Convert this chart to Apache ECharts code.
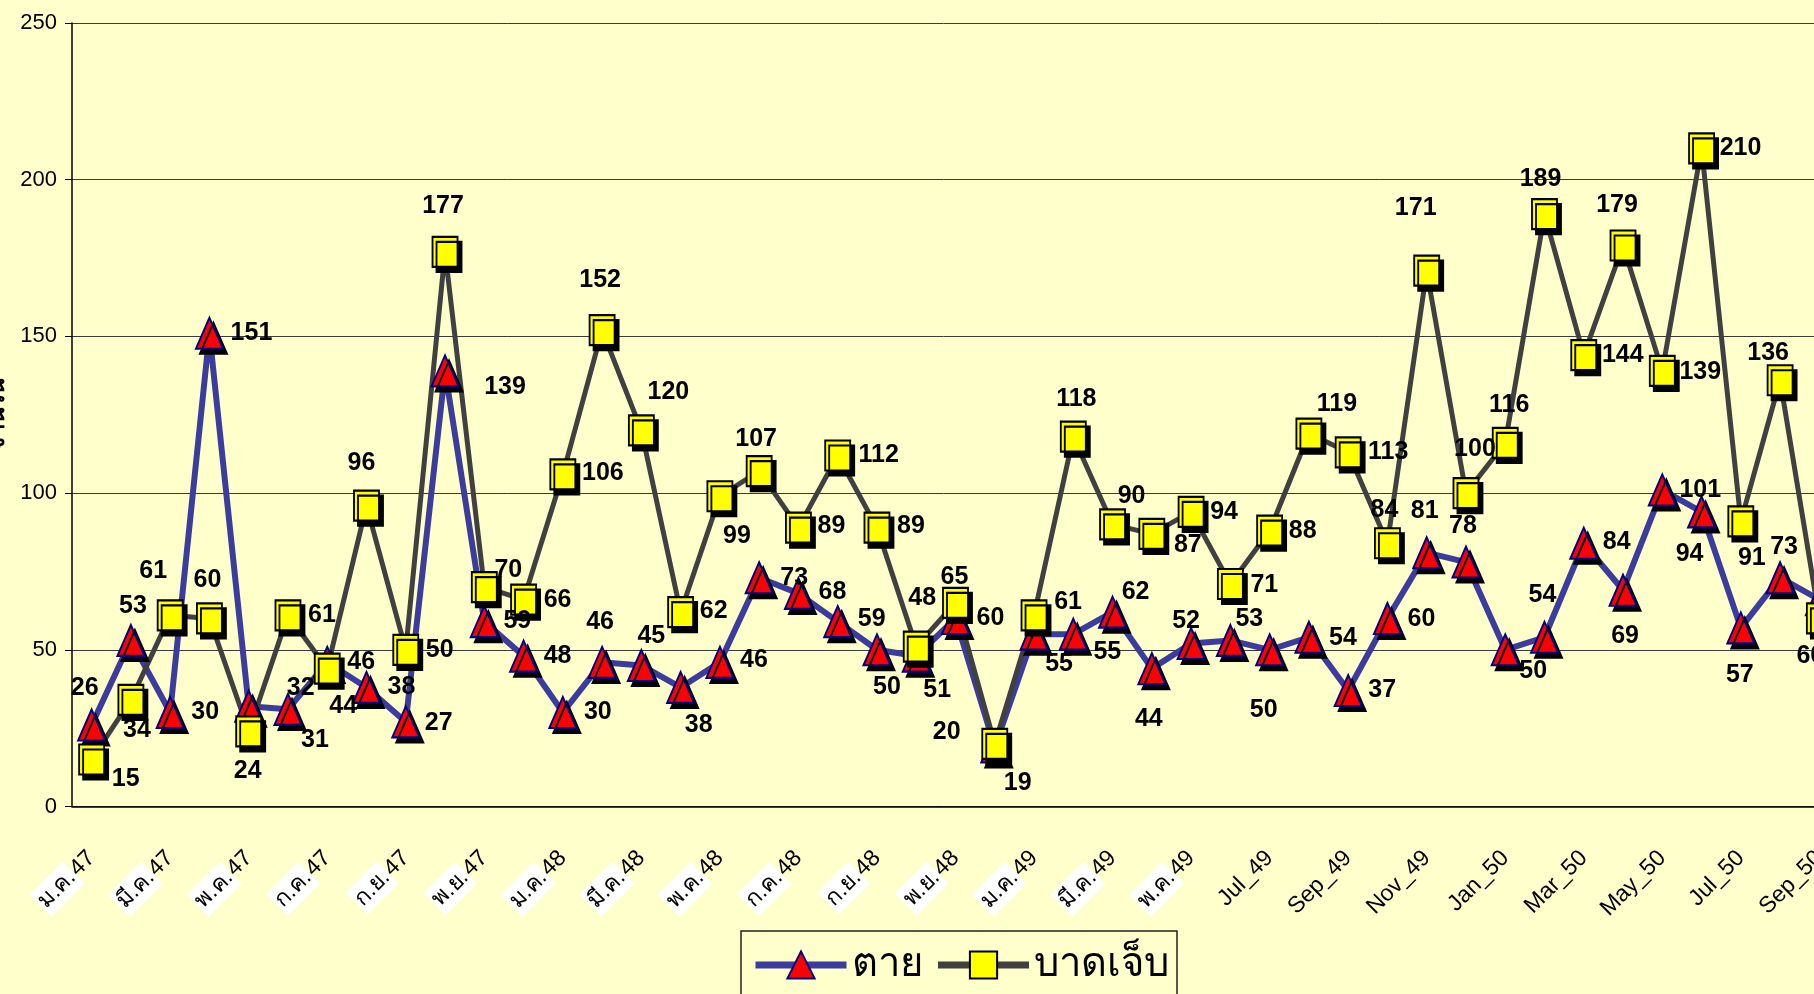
<!DOCTYPE html>
<html lang="th">
<head>
<meta charset="UTF-8">
<title>ตาย / บาดเจ็บ</title>
<script src="https://cdn.jsdelivr.net/npm/echarts@6/dist/echarts.min.js"></script>
<style>
  html, body { margin: 0; padding: 0; background: #FFFFCC; }
  #main { width: 1814px; height: 994px; }
</style>
</head>
<body>
<div id="main"></div>
<script>
// months Jan 47 .. Sep 50 (Thai Buddhist-era years)
var months = [
    'ม.ค.47', 'ก.พ.47', 'มี.ค.47', 'เม.ย.47', 'พ.ค.47', 'มิ.ย.47', 'ก.ค.47', 'ส.ค.47', 'ก.ย.47', 'ต.ค.47', 'พ.ย.47', 'ธ.ค.47',
    'ม.ค.48', 'ก.พ.48', 'มี.ค.48', 'เม.ย.48', 'พ.ค.48', 'มิ.ย.48', 'ก.ค.48', 'ส.ค.48', 'ก.ย.48', 'ต.ค.48', 'พ.ย.48', 'ธ.ค.48',
    'ม.ค.49', 'ก.พ.49', 'มี.ค.49', 'เม.ย.49', 'พ.ค.49', 'Jun_49', 'Jul_49', 'Aug_49', 'Sep_49', 'Oct_49', 'Nov_49', 'Dec_49',
    'Jan_50', 'Feb_50', 'Mar_50', 'Apr_50', 'May_50', 'Jun_50', 'Jul_50', 'Aug_50', 'Sep_50'
];

// ตาย (deaths)
var deaths = [26, 53, 30, 151, 32, 31, 46, 38, 27, 139, 59, 48, 30, 46, 45, 38, 46, 73, 68, 59, 50, 48,
    60, 19, 55, 55, 62, 44, 52, 53, 50, 54, 37, 60, 81, 78, 50, 54, 84, 69, 101, 94, 57, 73, 66];

// บาดเจ็บ (injured)
var injured = [15, 34, 61, 60, 24, 61, 44, 96, 50, 177, 70, 66, 106, 152, 120, 62, 99, 107, 89, 112, 89, 51,
    65, 20, 61, 118, 90, 87, 94, 71, 88, 119, 113, 84, 171, 100, 116, 189, 144, 179, 139, 210, 91, 136, 60];

// where each value label sits, relative to its marker (px)
var deathLabelShift = [
    [-7, -37], [2, -34], [35, 0], [42, 0], [52, -18], [27, 31], [34, 0], [35, 0], [33, 1], [60, 16],
    [33, 0], [34, 0], [35, 0], [-2, -40], [10, -29], [18, 38], [34, -2], [35, 0], [34, -1], [34, -2],
    [10, 37], [6, -58], [35, 0], [23, 36], [25, 30], [34, 18], [23, -20], [-3, 51], [-5, -22], [19, -21],
    [-6, 60], [34, 1], [34, 0], [34, 1], [-2, -42], [-3, -36], [28, 21], [-2, -42], [33, -1], [2, 46],
    [38, 0], [-12, 42], [-1, 47], [4, -31], [34, 0]
];
var injuredLabelShift = [
    [34, 20], [6, 30], [-17, -44], [-2, -38], [-1, 40], [34, 0], [16, 38], [-5, -43], [34, 0], [-2, -46],
    [24, -17], [34, 0], [40, -1], [-2, -50], [27, -38], [33, -1], [17, 40], [-3, -32], [33, -1], [41, 0],
    [34, -1], [21, 43], [-1, -26], [-48, -12], [34, -13], [3, -38], [19, -28], [36, 11], [33, 0], [34, 1],
    [33, 0], [28, -29], [40, 0], [-3, -33], [-11, -62], [9, -44], [4, -38], [-4, -35], [39, 0], [-6, -40],
    [38, 1], [39, 0], [11, 37], [-12, -27], [-9, 38]
];

var labelFont = "'Liberation Sans Narrow', 'Arial Narrow', 'Liberation Sans', Arial, sans-serif";
var axisFont = "'Liberation Sans', Arial, sans-serif";

function withLabels(values, shifts) {
    return values.map(function (v, i) {
        return { value: v, label: { offset: shifts[i] } };
    });
}

// Thai month part sits on a white patch, like the original export
function monthLabel(value) {
    var m = /^(.*?)(\d+)$/.exec(value);
    if (m && /[^\x00-\x7f]/.test(m[1])) {
        return '{th|' + m[1] + '}' + m[2];
    }
    return value;
}

var chartDom = document.getElementById('main');
var myChart = echarts.init(chartDom);
var option;

option = {
    backgroundColor: '#FFFFCC',
    animation: false,
    grid: {
        left: 72,
        top: 23,
        right: -25,
        bottom: 187.5,
        containLabel: false,
        outerBoundsMode: 'none'
    },
    legend: {
        left: 741,
        top: 931,
        padding: [14, 8, 14, 11],
        itemWidth: 91,
        itemHeight: 34,
        itemGap: 12,
        borderColor: '#222',
        borderWidth: 1.5,
        backgroundColor: '#FFFFCC',
        lineStyle: { width: 7 },
        textStyle: { fontSize: 40, color: '#000' },
        data: ['ตาย', 'บาดเจ็บ']
    },
    xAxis: {
        type: 'category',
        data: months,
        boundaryGap: true,
        axisLine: { lineStyle: { color: '#000', width: 1.5 } },
        axisTick: { interval: 0, length: 7, lineStyle: { color: '#000' } },
        axisLabel: {
            interval: 1,
            rotate: 45,
            margin: 48,
            fontSize: 23,
            fontFamily: axisFont,
            color: '#000',
            formatter: monthLabel,
            rich: {
                th: { fontSize: 23, fontFamily: axisFont, color: '#000', backgroundColor: '#fff', padding: [4, 2] }
            }
        },
        splitLine: { show: false }
    },
    yAxis: {
        type: 'value',
        min: 0,
        max: 250,
        interval: 50,
        name: 'จำนวน',
        nameLocation: 'middle',
        nameGap: 62,
        nameTextStyle: { fontSize: 24, fontWeight: 'bold', color: '#000' },
        axisLine: { show: true, lineStyle: { color: '#000', width: 1.5 } },
        axisTick: { show: true, length: 7, lineStyle: { color: '#000' } },
        axisLabel: { fontSize: 22, fontFamily: axisFont, color: '#000', margin: 15 },
        splitLine: { lineStyle: { color: '#3a3a3a', width: 1 } }
    },
    series: [
        {
            name: 'ตาย',
            type: 'line',
            data: withLabels(deaths, deathLabelShift),
            symbol: 'triangle',
            symbolSize: [27, 31],
            showAllSymbol: true,
            lineStyle: { color: '#3c3c9e', width: 6 },
            itemStyle: {
                color: '#FF0000',
                borderColor: '#000080',
                borderWidth: 2,
                shadowColor: '#000',
                shadowBlur: 0,
                shadowOffsetX: 4,
                shadowOffsetY: 5
            },
            label: {
                show: true,
                position: 'inside',
                fontSize: 25,
                fontWeight: 'bold',
                fontFamily: labelFont,
                color: '#000',
                textBorderWidth: 0
            },
            emphasis: { disabled: true }
        },
        {
            name: 'บาดเจ็บ',
            type: 'line',
            data: withLabels(injured, injuredLabelShift),
            symbol: 'rect',
            symbolSize: [25, 30],
            showAllSymbol: true,
            lineStyle: { color: '#404040', width: 5 },
            itemStyle: {
                color: '#FFFF00',
                borderColor: '#000',
                borderWidth: 2,
                shadowColor: '#000',
                shadowBlur: 0,
                shadowOffsetX: 4,
                shadowOffsetY: 5
            },
            label: {
                show: true,
                position: 'inside',
                fontSize: 25,
                fontWeight: 'bold',
                fontFamily: labelFont,
                color: '#000',
                textBorderWidth: 0
            },
            emphasis: { disabled: true }
        }
    ]
};

option && myChart.setOption(option);
</script>
</body>
</html>
